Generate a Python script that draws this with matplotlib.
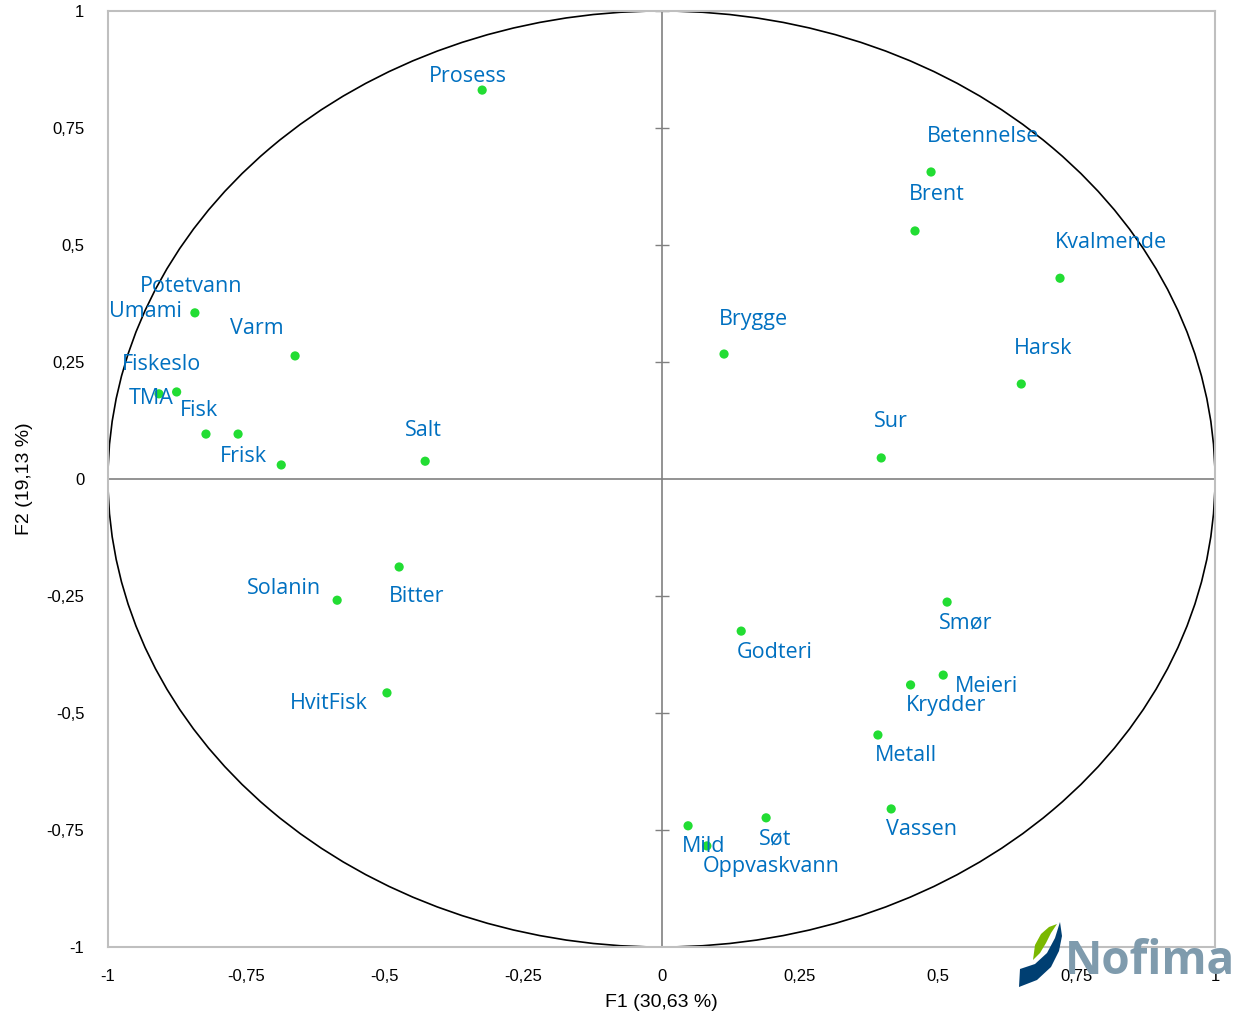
import matplotlib.pyplot as plt
from matplotlib.patches import Ellipse, Polygon

# attribute names and their coordinates on the first two factors
names = ["Prosess", "Betennelse", "Brent", "Kvalmende", "Harsk", "Brygge", "Sur",
         "Umami", "Varm", "TMA", "Fiskeslo", "Potetvann", "Fisk", "Frisk", "Salt",
         "Bitter", "Solanin", "HvitFisk", "Godteri", "Smør", "Meieri", "Krydder",
         "Metall", "Vassen", "Mild", "Oppvaskvann", "Søt"]
f1 = [-0.324, 0.487, 0.458, 0.720, 0.650, 0.113, 0.397,
      -0.843, -0.662, -0.908, -0.876, -0.823, -0.765, -0.687, -0.427,
      -0.474, -0.586, -0.496, 0.144, 0.516, 0.509, 0.450,
      0.391, 0.415, 0.048, 0.082, 0.189]
f2 = [0.831, 0.656, 0.530, 0.429, 0.203, 0.267, 0.045,
      0.355, 0.263, 0.182, 0.186, 0.096, 0.096, 0.030, 0.038,
      -0.188, -0.259, -0.457, -0.325, -0.263, -0.419, -0.440,
      -0.547, -0.705, -0.741, -0.784, -0.724]
ticks = [-1, -0.75, -0.5, -0.25, 0, 0.25, 0.5, 0.75, 1]
tick_labels = ["-1", "-0,75", "-0,5", "-0,25", "0", "0,25", "0,5", "0,75", "1"]

# label placement (pixels right / down from the point)
offsets = {
    "Prosess": (-14, -14), "Betennelse": (52, -35), "Brent": (22, -36),
    "Kvalmende": (51, -36), "Harsk": (22, -35), "Brygge": (29, -35), "Sur": (10, -36),
    "Umami": (-49, -1), "Varm": (-38, -27), "TMA": (-8, 5), "Fiskeslo": (-15, -27),
    "Potetvann": (-15, -148), "Fisk": (-39, -24), "Frisk": (-38, -8), "Salt": (-2, -31),
    "Bitter": (17, 30), "Solanin": (-53, -12), "HvitFisk": (-58, 11), "Godteri": (33, 21),
    "Smør": (19, 21), "Meieri": (43, 11), "Krydder": (35, 21), "Metall": (28, 21),
    "Vassen": (30, 21), "Mild": (16, 21), "Oppvaskvann": (64, 21), "Søt": (9, 21),
}

W, H = 1235, 1016
fig = plt.figure(figsize=(W / 100, H / 100), dpi=100)
ax = fig.add_axes([108 / W, 1 - 947 / H, (1215 - 108) / W, (947 - 11) / H])
ax.set_facecolor("none")
ax.set_xlim(-1, 1)
ax.set_ylim(-1, 1)

for s in ax.spines.values():
    s.set_color("#BFBFBF")
    s.set_linewidth(1.5)

ax.axhline(0, color="#808080", lw=1.2, zorder=1)
ax.axvline(0, color="#808080", lw=1.2, zorder=1)
tk = [t for t in ticks if t != 0]
ax.plot([0] * len(tk), tk, ls="none", marker="_", ms=10, mew=1, color="#808080", zorder=1)

ax.add_patch(Ellipse((0, 0), 2, 2, fill=False, ec="black", lw=1.2, zorder=2))

ax.scatter(f1, f2, s=44, color="#22DD33", edgecolors="none", zorder=3)
for n, x, y in zip(names, f1, f2):
    dx, dy = offsets[n]
    ax.annotate(n, (x, y), xytext=(dx, -dy), textcoords="offset pixels",
                ha="center", va="center", fontsize=15.5, color="#0070C0",
                family="Open Sans", zorder=4)

ax.set_xticks(ticks)
ax.set_xticklabels(tick_labels, family="Liberation Sans")
ax.set_yticks(ticks)
ax.set_yticklabels(tick_labels, family="Liberation Sans")
ax.tick_params(length=0, labelsize=12, pad=16)
ax.tick_params(axis="y", pad=17)
ax.set_xlabel("F1 (30,63 %)", fontsize=14, family="Liberation Sans", labelpad=7)
ax.set_ylabel("F2 (19,13 %)", fontsize=14, family="Liberation Sans", labelpad=12)
ax.yaxis.set_label_coords(-(108 - 33) / (1215 - 108), 0.5)


# Nofima logo in the lower right corner
def px(pts):
    return [(x / W, 1 - y / H) for x, y in pts]


blue = Polygon(px([(1019, 987), (1037, 980), (1051, 967), (1059, 951), (1062, 936),
                   (1060, 922), (1055, 938), (1047, 953), (1035, 964), (1020, 969)]),
               closed=True, fc="#003F72", ec="none", transform=fig.transFigure, zorder=5)
green = Polygon(px([(1033, 960), (1035, 945), (1041, 934), (1049, 927), (1057, 924),
                    (1051, 933), (1046, 943), (1040, 953)]),
                closed=True, fc="#7AB800", ec="none", transform=fig.transFigure, zorder=6)
fig.patches.extend([blue, green])
fig.text(1150 / W, 1 - 962 / H, "Nofima", ha="center", va="center", fontsize=33,
         fontweight="bold", color="#7F9BAD", family="Open Sans", zorder=5)

fig.savefig("out.png", dpi=100)
